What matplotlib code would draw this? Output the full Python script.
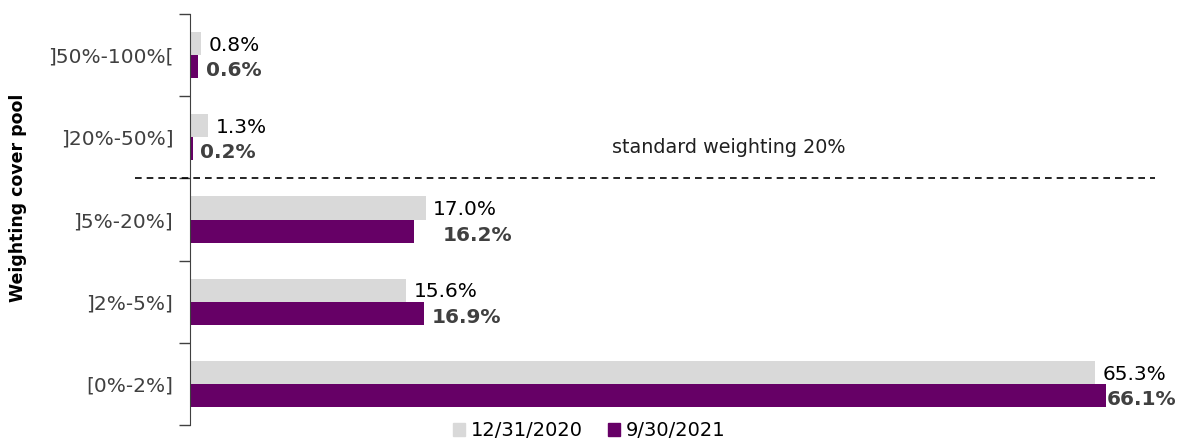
import matplotlib
matplotlib.use("Agg")
import matplotlib.pyplot as plt
from matplotlib.patches import Patch
import numpy as np

categories = ["[0%-2%]", "]2%-5%]", "]5%-20%]", "]20%-50%]", "]50%-100%["]
series_2020 = [65.3, 15.6, 17.0, 1.3, 0.8]
series_2021 = [66.1, 16.9, 16.2, 0.2, 0.6]
series_names = ["12/31/2020", "9/30/2021"]
threshold_text = "standard weighting 20%"
ylabel = "Weighting cover pool"

c_gray = "#D9D9D9"
c_purple = "#660066"
txt_dark = "#404040"

plt.rcParams['font.family'] = ['DejaVu Sans']
fig = plt.figure(figsize=(11.81, 4.41), dpi=100)
ax = fig.add_axes([190/1181, 16/441, 970/1181, 411/441])

y = np.arange(len(categories))
h = 0.28
ax.barh(y + h/2, series_2020, height=h, color=c_gray)
ax.barh(y - h/2, series_2021, height=h, color=c_purple)

ax.set_xlim(0, 70)
ax.set_ylim(-0.5, len(categories) - 0.5)
ax.set_xticks([])
ax.set_yticks(y)
ax.set_yticklabels(categories, fontsize=14.5, color=txt_dark)
ax.tick_params(axis='y', which='major', length=0, pad=12)
ax.set_yticks(np.arange(len(categories) + 1) - 0.5, minor=True)
ax.tick_params(axis='y', which='minor', length=8, color=txt_dark, width=1)
for s in ['top', 'right', 'bottom']:
    ax.spines[s].set_visible(False)
ax.spines['left'].set_color(txt_dark)

extra_pad_2020 = [0, 0, 0, 0, 0]
extra_pad_2021 = [-0.5, 0, 1.5, 0, 0]
for i in range(len(categories)):
    ax.text(series_2020[i] + 0.55 + extra_pad_2020[i], y[i] + h/2 - 0.02, f"{series_2020[i]:.1f}%",
            va='center', ha='left', fontsize=14.5, color='black')
    ax.text(series_2021[i] + 0.55 + extra_pad_2021[i], y[i] - h/2 - 0.05, f"{series_2021[i]:.1f}%",
            va='center', ha='left', fontsize=14.5, color=txt_dark, fontweight='bold')

ax.plot([-0.0567, 0.9948], [2.5, 2.5], transform=ax.get_yaxis_transform(),
        color='black', linestyle=(0, (4, 3)), linewidth=1.2, clip_on=False)
ax.text(38.9, 2.88, threshold_text, ha='center', va='center', fontsize=13.8, color='#202020')

fig.text(18/1181, 1 - 198/441, ylabel, rotation=90, ha='center', va='center',
         fontsize=12.5, fontweight='bold', color='black')

handles = [Patch(color=c_gray), Patch(color=c_purple)]
fig.legend(handles, series_names, loc='center', bbox_to_anchor=(0.499, 1 - 431/441),
           ncol=2, frameon=False, fontsize=14, handlelength=0.6, handleheight=0.6,
           handletextpad=0.3, columnspacing=1.3, borderpad=0.1)

fig.savefig("out.png", dpi=100)
